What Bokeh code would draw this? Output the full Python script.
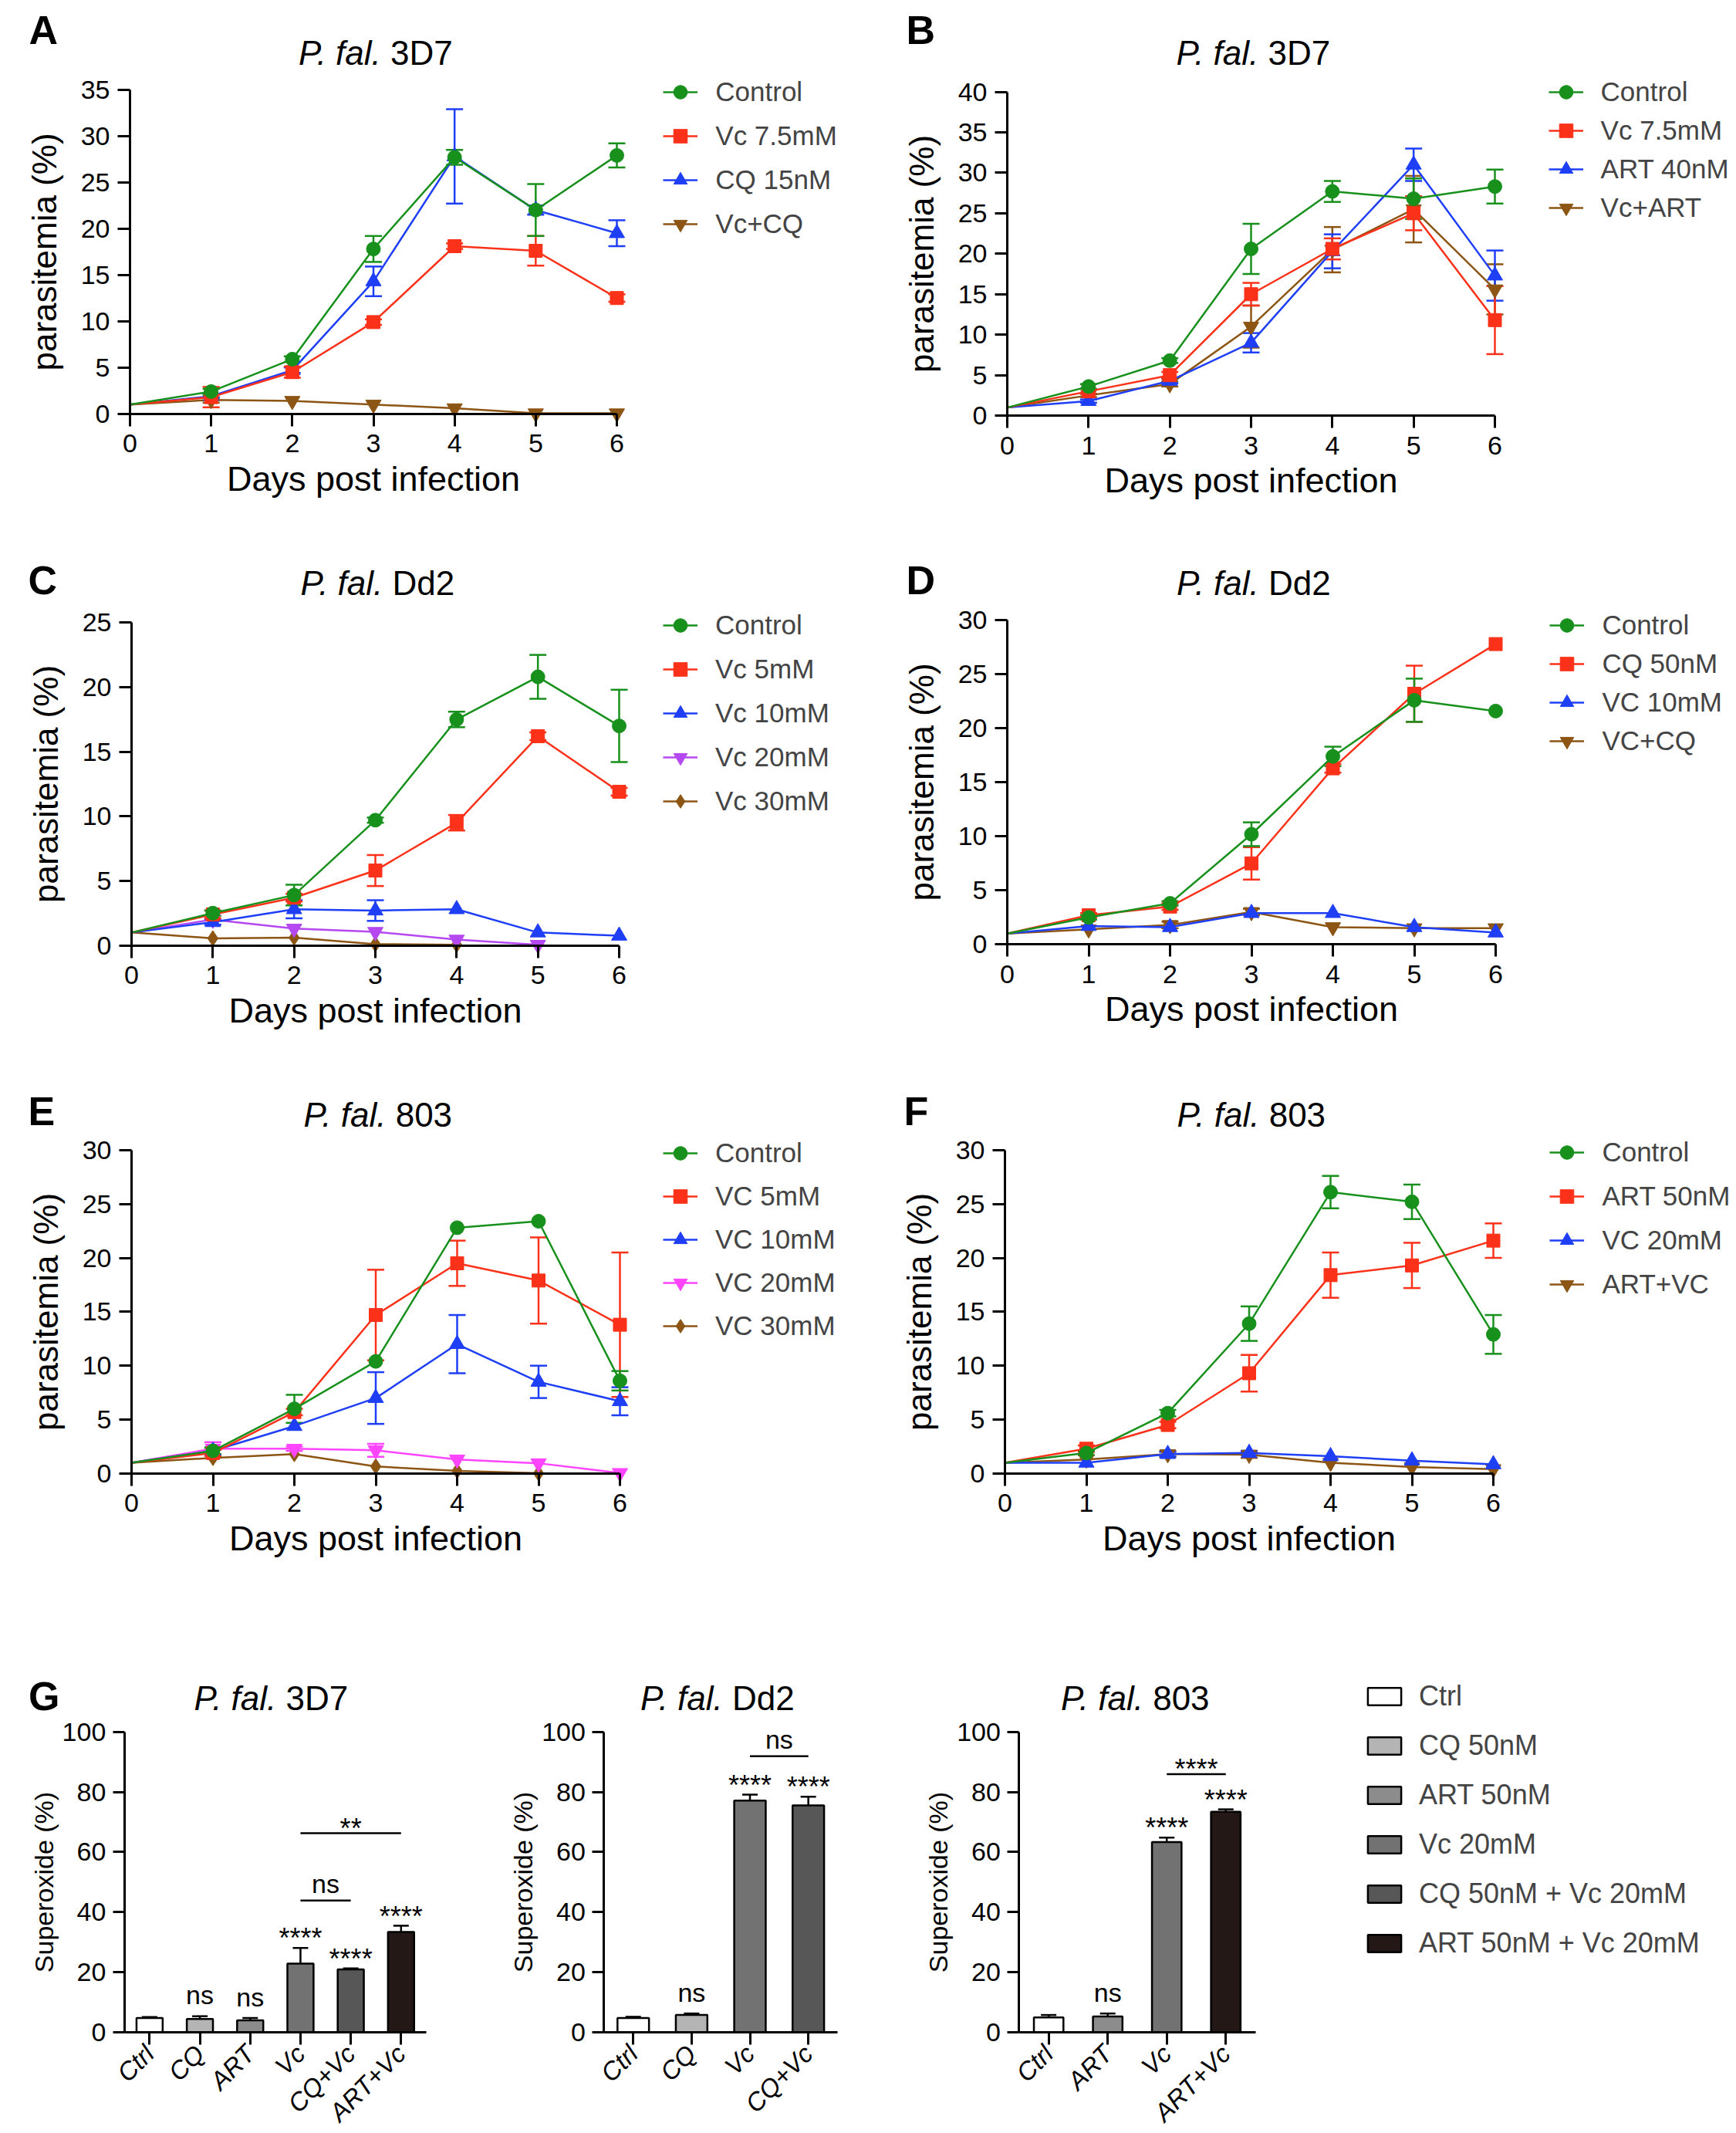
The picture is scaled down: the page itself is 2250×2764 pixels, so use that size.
import math
from bokeh.plotting import figure
from bokeh.models import (Range1d, FixedTicker, Legend, LegendItem, Label,
                          Whisker, TeeHead, ColumnDataSource, LinearAxis)
from bokeh.layouts import row, column
from bokeh.embed import file_html
from bokeh.resources import INLINE
from bokeh.core.properties import value

FONT = "Liberation Sans"
NaN = float("nan")
OFF = 0          # page offset of the layout inside the picture
BASE_FIX = 0.36  # text anchor correction (em) for alphabetic baseline

# ---------------------------------------------------------------- data
days = [0, 1, 2, 3, 4, 5, 6]

# A  P. fal. 3D7
A_ctrl = [1.0, 2.4, 5.9, 17.8, 27.7, 22.0, 27.9]
A_ctrl_sem = [0, 0.3, 0.3, 1.4, 0.8, 2.8, 1.3]
A_vc = [1.0, 1.8, 4.5, 9.9, 18.1, 17.6, 12.5]
A_vc_sem = [0, 1.1, 0.6, 0.3, 0.3, 1.6, 0.4]
A_cq = [1.0, 1.9, 4.7, 14.3, 27.8, 22.0, 19.5]
A_cq_sem = [0, 0.2, 0.3, 1.6, 5.1, 0.5, 1.4]
A_vccq = [1.0, 1.5, 1.4, 1.0, 0.6, 0.05, 0.05]
A_vccq_sem = [0, 0.3, 0, 0, 0, 0, 0]

# B  P. fal. 3D7
B_ctrl = [1.0, 3.6, 6.8, 20.6, 27.7, 26.8, 28.3]
B_ctrl_sem = [0, 0.3, 0.3, 3.1, 1.3, 2.5, 2.1]
B_vc = [1.0, 3.0, 5.0, 15.0, 20.6, 25.0, 11.8]
B_vc_sem = [0, 0.3, 0.4, 1.4, 1.3, 2.1, 4.2]
B_art = [1.0, 1.8, 4.3, 9.0, 20.3, 31.0, 17.3]
B_art_sem = [0, 0.2, 0.3, 1.2, 2.1, 2.0, 3.1]
B_vcart = [1.0, 2.5, 3.9, 11.0, 20.5, 25.5, 15.6]
B_vcart_sem = [0, 0.2, 0.3, 2.6, 2.8, 4.1, 3.1]

# C  P. fal. Dd2
C_ctrl = [1.0, 2.5, 3.9, 9.7, 17.5, 20.8, 17.0]
C_ctrl_sem = [0, 0.2, 0.8, 0.2, 0.6, 1.7, 2.8]
C_vc5 = [1.0, 2.4, 3.7, 5.8, 9.5, 16.2, 11.9]
C_vc5_sem = [0, 0.3, 0.3, 1.2, 0.6, 0.3, 0.3]
C_vc10 = [1.0, 1.8, 2.8, 2.7, 2.8, 1.0, 0.75]
C_vc10_sem = [0, 0.2, 0.7, 0.8, 0, 0, 0]
C_vc20 = [1.0, 2.0, 1.3, 1.05, 0.45, 0.05, NaN]
C_vc20_sem = [0, 0, 0, 0, 0, 0, 0]
C_vc30 = [1.0, 0.55, 0.6, 0.1, 0.05, NaN, NaN]
C_vc30_sem = [0, 0, 0, 0, 0, 0, 0]

# D  P. fal. Dd2
D_ctrl = [1.0, 2.5, 3.8, 10.2, 17.4, 22.6, 21.6]
D_ctrl_sem = [0, 0.2, 0.2, 1.1, 0.9, 2.0, 0]
D_cq = [1.0, 2.7, 3.5, 7.5, 16.3, 23.2, 27.8]
D_cq_sem = [0, 0.2, 0.3, 1.5, 0.4, 2.6, 0]
D_vc = [1.0, 1.7, 1.6, 2.9, 2.9, 1.6, 1.1]
D_vc_sem = [0, 0, 0, 0, 0, 0, 0]
D_vccq = [1.0, 1.4, 1.8, 3.0, 1.6, 1.5, 1.5]
D_vccq_sem = [0, 0, 0.3, 0.3, 0, 0, 0]

# E  P. fal. 803
E_ctrl = [1.0, 2.1, 6.0, 10.4, 22.8, 23.4, 8.6]
E_ctrl_sem = [0, 0.3, 1.3, 0, 0, 0, 0.9]
E_vc5 = [1.0, 1.9, 5.7, 14.7, 19.5, 17.9, 13.8]
E_vc5_sem = [0, 0.3, 0.3, 4.2, 2.1, 4.0, 6.7]
E_vc10 = [1.0, 2.1, 4.4, 7.0, 12.0, 8.5, 6.7]
E_vc10_sem = [0, 0.3, 0, 2.4, 2.7, 1.5, 1.3]
E_vc20 = [1.0, 2.3, 2.3, 2.15, 1.3, 0.95, 0.05]
E_vc20_sem = [0, 0.6, 0.2, 0.6, 0, 0, 0]
E_vc30 = [1.0, 1.45, 1.8, 0.65, 0.25, 0.02, NaN]
E_vc30_sem = [0, 0, 0, 0, 0, 0, 0]

# F  P. fal. 803
F_ctrl = [1.0, 1.9, 5.6, 13.9, 26.1, 25.2, 12.9]
F_ctrl_sem = [0, 0.2, 0.3, 1.6, 1.5, 1.6, 1.8]
F_art = [1.0, 2.3, 4.5, 9.3, 18.4, 19.3, 21.6]
F_art_sem = [0, 0.3, 0.3, 1.7, 2.1, 2.1, 1.6]
F_vc = [1.0, 1.0, 1.8, 1.9, 1.6, 1.2, 0.85]
F_vc_sem = [0, 0, 0.2, 0.2, 0, 0, 0]
F_artvc = [1.0, 1.3, 1.8, 1.75, 1.0, 0.6, 0.4]
F_artvc_sem = [0, 0, 0.3, 0.3, 0, 0, 0]

# G  superoxide (%)
G1_cats = ["Ctrl", "CQ", "ART", "Vc", "CQ+Vc", "ART+Vc"]
G1_mean = [4.8, 4.5, 4.0, 22.9, 21.0, 33.4]
G1_sem = [0.3, 0.9, 0.8, 5.2, 0.3, 2.1]
G1_sig = ["", "ns", "ns", "****", "****", "****"]
G1_cmp = [(3, 4, 43.9, "ns"), (3, 5, 66.3, "**")]

G2_cats = ["Ctrl", "CQ", "Vc", "CQ+Vc"]
G2_mean = [4.8, 5.8, 77.1, 75.5]
G2_sem = [0.4, 0.5, 2.0, 2.9]
G2_sig = ["", "ns", "****", "****"]
G2_cmp = [(2, 3, 91.9, "ns")]

G3_cats = ["Ctrl", "ART", "Vc", "ART+Vc"]
G3_mean = [5.0, 5.3, 63.3, 73.4]
G3_sem = [0.8, 1.0, 1.5, 0.8]
G3_sig = ["", "ns", "****", "****"]
G3_cmp = [(2, 3, 85.9, "****")]

G_treatments = ["Ctrl", "CQ", "ART", "Vc", "CQ+Vc", "ART+Vc"]
G_legend_labels = ["Ctrl", "CQ 50nM", "ART 50nM", "Vc 20mM",
                   "CQ 50nM + Vc 20mM", "ART 50nM + Vc 20mM"]
G_colors = ["#ffffff", "#b4b4b4", "#8c8c8c", "#727272", "#575757", "#231815"]

# ---------------------------------------------------------------- style
GREEN = "#17901c"
RED = "#fb3219"
BLUE = "#1f3ff6"
BROWN = "#8c5514"
PURPLE = "#b548f0"
MAGENTA = "#ff45ff"

TITLE_PX = 44
LETTER_PX = 52
ITEM_H = 44      # legend row height (px)
CW = {"P": .667, ".": .278, " ": .278, "f": .278, "a": .556, "l": .222,
      "3": .556, "D": .722, "7": .556, "d": .556, "2": .556, "8": .556, "0": .556}


def tw(s, fs):
    return sum(CW.get(ch, .556) for ch in s) * fs


def style_axis(ax, tick_fs, label_fs, lab_standoff, axis_standoff, tick_out=16):
    ax.axis_line_width = 3
    ax.axis_line_color = "black"
    ax.major_tick_line_width = 3
    ax.major_tick_line_color = "black"
    ax.major_tick_out = tick_out
    ax.major_tick_in = 0
    ax.minor_tick_line_color = None
    ax.major_label_text_font = FONT
    ax.major_label_text_font_size = tick_fs
    ax.major_label_text_color = "black"
    ax.major_label_standoff = lab_standoff
    ax.axis_label_text_font = FONT
    ax.axis_label_text_font_size = label_fs
    ax.axis_label_text_font_style = "normal"
    ax.axis_label_text_color = "black"
    ax.axis_label_standoff = axis_standoff


def add_title(p, cx, base, strain, dx, dy):
    it = "P. fal."
    w_it, w_sp, w_r = tw(it, TITLE_PX), tw(" ", TITLE_PX), tw(strain, TITLE_PX)
    left = cx - (w_it + w_sp + w_r) / 2.0
    yb = dy(base - BASE_FIX * TITLE_PX)
    p.add_layout(Label(x=dx(left + w_it), y=yb, text=it, text_align="right",
                       text_baseline="alphabetic", text_font=FONT,
                       text_font_size=f"{TITLE_PX}px", text_font_style="italic",
                       text_color="black"))
    p.add_layout(Label(x=dx(left + w_it + w_sp), y=yb, text=strain,
                       text_align="left", text_baseline="alphabetic", text_font=FONT,
                       text_font_size=f"{TITLE_PX}px", text_font_style="normal",
                       text_color="black"))


def add_letter(p, letter, lx, lb, dx, dy):
    p.add_layout(Label(x=dx(lx), y=dy(lb - BASE_FIX * LETTER_PX), text=letter,
                       text_align="left", text_baseline="alphabetic", text_font=FONT,
                       text_font_size=f"{LETTER_PX}px", text_font_style="bold",
                       text_color="black"))


def base_figure(W, H, xr, yr):
    p = figure(width=W, height=H, x_range=Range1d(*xr), y_range=Range1d(*yr),
               x_axis_type=None, y_axis_type=None, min_border=0,
               toolbar_location=None, output_backend="svg")
    p.outline_line_color = None
    p.background_fill_color = "white"
    p.border_fill_color = "white"
    return p


def place_legend(p, items, W, H, ox, oy, gx, gy, pitch, **kw):
    N = len(items)
    spacing = int(round(pitch - ITEM_H))
    leg_h = N * ITEM_H + (N - 1) * spacing
    top_c = gy - ITEM_H / 2.0 - OFF - oy
    vx = gx - OFF - ox
    vy = H - top_c - leg_h
    leg = Legend(items=items, location=(vx, vy), orientation="vertical",
                 margin=0, padding=0, spacing=spacing, label_height=ITEM_H,
                 label_text_font=FONT, border_line_color=None,
                 background_fill_alpha=0, **kw)
    p.add_layout(leg)


def line_panel(geo, ymax, series, strain, letter):
    ox, oy, W, H = geo["box"]
    X0, X6, Yt, Y0 = geo["axes"]
    sx = (X6 - X0) / 6.0
    sy = (Y0 - Yt) / ymax
    X0c = X0 - OFF - ox
    Y0c = Y0 - OFF - oy
    p = base_figure(W, H, (-X0c / sx, (W - X0c) / sx), ((Y0c - H) / sy, Y0c / sy))

    xa = LinearAxis(fixed_location=0, bounds=(0, 6), ticker=FixedTicker(ticks=days),
                    axis_label="Days post infection")
    style_axis(xa, "34px", "45px", 11, 5)
    p.add_layout(xa, "below")
    ya = LinearAxis(fixed_location=0, bounds=(0, ymax),
                    ticker=FixedTicker(ticks=list(range(0, ymax + 1, 5))),
                    axis_label="parasitemia (%)")
    style_axis(ya, "34px", "44px", 10, 20)
    p.add_layout(ya, "left")

    handles = {}
    for (lab, vals, sems, color, marker, size) in reversed(series):
        lr = p.line(days, vals, line_color=color, line_width=2.5)
        mx = [d for d, v in zip(days, vals) if d > 0 and not math.isnan(v)]
        my = [v for d, v in zip(days, vals) if d > 0 and not math.isnan(v)]
        sr = p.scatter(mx, my, marker=marker, size=size, fill_color=color,
                       line_color=color, line_width=1)
        ok = [(d, v, e) for d, v, e in zip(days, vals, sems) if e > 0 and not math.isnan(v)]
        if ok:
            src = ColumnDataSource(dict(x=[o[0] for o in ok],
                                        lo=[o[1] - o[2] for o in ok],
                                        hi=[o[1] + o[2] for o in ok]))
            p.add_layout(Whisker(source=src, base="x", lower="lo", upper="hi",
                                 line_color=color, line_width=2.5,
                                 upper_head=TeeHead(size=22, line_color=color, line_width=2.5),
                                 lower_head=TeeHead(size=22, line_color=color, line_width=2.5)))
        handles[lab] = [lr, sr]
    items = [LegendItem(label=s[0], renderers=handles[s[0]]) for s in series]
    place_legend(p, items, W, H, ox, oy, geo["leg_x"], geo["leg_y"], geo["leg_dy"],
                 glyph_width=45, glyph_height=ITEM_H, label_standoff=23,
                 label_text_font_size="35px")

    def dx(px):
        return (px - X0) / sx

    def dy(py):
        return (Y0 - py) / sy

    add_title(p, (X0 + X6) / 2.0, geo["title_base"], strain, dx, dy)
    add_letter(p, letter, geo["letter"][0], geo["letter"][1], dx, dy)
    return p


STAR_FS, NS_FS = 36, 34


def bar_row(box, yaxis_px, subplots, leg_geo):
    ox, oy, W, H = box
    Yt, Y0 = yaxis_px
    sy = (Y0 - Yt) / 100.0
    Y0c = Y0 - OFF - oy
    # x data units are picture pixels
    p = base_figure(W, H, (OFF + ox, OFF + ox + W), ((Y0c - H) / sy, Y0c / sy))

    def dy(py):
        return (Y0 - py) / sy

    def ident(px):
        return px

    star_k = (BASE_FIX - 0.573) * STAR_FS
    ns_k = (BASE_FIX - 0.26) * NS_FS
    per_t = {t: dict(x=[], top=[], w=[]) for t in G_treatments}
    wx, wlo, whi = [], [], []
    star_x, star_y, star_t, ns_x, ns_y, ns_t = [], [], [], [], [], []
    for sp in subplots:
        X0, Xe = sp["axes"]
        cats, means, sems, sig, cmps = sp["data"]
        n = len(cats)
        sxk = (Xe - X0) / n
        cx = [round(X0 + (i + 0.5) * sxk, 2) for i in range(n)]
        for c, m, x in zip(cats, means, cx):
            per_t[c]["x"].append(x)
            per_t[c]["top"].append(m)
            per_t[c]["w"].append(sp["barw"] * sxk)
        tops = [m + e for m, e in zip(means, sems)]
        wx += cx
        wlo += means
        whi += tops
        for x, t, s in zip(cx, tops, sig):
            if s.startswith("*"):
                star_x.append(x)
                star_y.append(t + (20 + star_k) / sy)
                star_t.append(s)
            elif s:
                ns_x.append(x)
                ns_y.append(t + (24 + ns_k) / sy)
                ns_t.append(s)
        for (i, j, yv, txt) in cmps:
            p.segment(x0=[cx[i]], y0=[yv], x1=[cx[j]], y1=[yv], line_color="black",
                      line_width=2.5)
            xm = (cx[i] + cx[j]) / 2.0
            if txt.startswith("*"):
                star_x.append(xm)
                star_y.append(yv + (14 + star_k) / sy)
                star_t.append(txt)
            else:
                ns_x.append(xm)
                ns_y.append(yv + (18 + ns_k) / sy)
                ns_t.append(txt)
        xa = LinearAxis(fixed_location=0, bounds=(X0, Xe), ticker=FixedTicker(ticks=cx),
                        major_label_overrides={x: c for x, c in zip(cx, cats)})
        style_axis(xa, "33px", "20px", 6, 0)
        xa.major_label_orientation = math.pi / 4
        xa.major_label_text_font_style = "italic"
        p.add_layout(xa, "below")
        ya = LinearAxis(fixed_location=X0, bounds=(0, 100),
                        ticker=FixedTicker(ticks=[0, 20, 40, 60, 80, 100]),
                        axis_label="Superoxide (%)")
        style_axis(ya, "34px", "34px", 9, 2, tick_out=15)
        p.add_layout(ya, "left")
        add_title(p, sp["title_cx"], sp["title_base"], sp["strain"], ident, dy)
        if sp.get("letter"):
            add_letter(p, sp["letter"], sp["letter_pos"][0], sp["letter_pos"][1], ident, dy)

    items = []
    for t, lab, col in zip(G_treatments, G_legend_labels, G_colors):
        src = ColumnDataSource(per_t[t])
        r = p.vbar(x="x", top="top", width="w", bottom=0, source=src, fill_color=col,
                   line_color="black", line_width=2.5)
        items.append(LegendItem(label=lab, renderers=[r]))
    p.add_layout(Whisker(source=ColumnDataSource(dict(x=wx, lo=wlo, hi=whi)),
                         base="x", lower="lo", upper="hi", line_color="black",
                         line_width=2.5, lower_head=None,
                         upper_head=TeeHead(size=20, line_color="black", line_width=2.5)))
    p.text(x=star_x, y=star_y, text=star_t, text_align="center",
           text_baseline="alphabetic", text_font=value(FONT),
           text_font_size=f"{STAR_FS}px", text_color="black")
    p.text(x=ns_x, y=ns_y, text=ns_t, text_align="center",
           text_baseline="alphabetic", text_font=value(FONT),
           text_font_size=f"{NS_FS}px", text_color="black")

    place_legend(p, items, W, H, ox, oy, leg_geo["x"], leg_geo["y"], leg_geo["dy"],
                 glyph_width=54, glyph_height=28, label_standoff=18,
                 label_text_font_size="36px")
    return p


# ---------------------------------------------------------------- layout
GEO = {
    "A": dict(box=(0, 0, 1125, 690), axes=(168, 799, 115.7, 535.7), leg_x=859.3,
              leg_y=118.5, leg_dy=57, title_base=84, letter=(37, 57)),
    "B": dict(box=(1125, 0, 1121, 690), axes=(1305, 1937, 118.5, 538.1), leg_x=2006.6,
              leg_y=118.5, leg_dy=50.4, title_base=84, letter=(1174, 57)),
    "C": dict(box=(0, 690, 1125, 682), axes=(170, 802, 806.3, 1224.6), leg_x=859,
              leg_y=809.8, leg_dy=56.7, title_base=771, letter=(36, 770)),
    "D": dict(box=(1125, 690, 1121, 682), axes=(1305, 1938, 803.3, 1223.3), leg_x=2008.4,
              leg_y=809.8, leg_dy=50.4, title_base=771, letter=(1174, 770)),
    "E": dict(box=(0, 1372, 1125, 700), axes=(170, 803, 1489.8, 1908.9), leg_x=859,
              leg_y=1493.7, leg_dy=56.5, title_base=1459.5, letter=(36, 1458)),
    "F": dict(box=(1125, 1372, 1121, 700), axes=(1302, 1935, 1489.8, 1908.9), leg_x=2008.4,
              leg_y=1492.8, leg_dy=56.6, title_base=1459.5, letter=(1171, 1458)),
}

pA = line_panel(GEO["A"], 35, [
    ("Control", A_ctrl, A_ctrl_sem, GREEN, "circle", 18),
    ("Vc 7.5mM", A_vc, A_vc_sem, RED, "square", 17),
    ("CQ 15nM", A_cq, A_cq_sem, BLUE, "triangle", 20),
    ("Vc+CQ", A_vccq, A_vccq_sem, BROWN, "inverted_triangle", 20)], "3D7", "A")
pB = line_panel(GEO["B"], 40, [
    ("Control", B_ctrl, B_ctrl_sem, GREEN, "circle", 18),
    ("Vc 7.5mM", B_vc, B_vc_sem, RED, "square", 17),
    ("ART 40nM", B_art, B_art_sem, BLUE, "triangle", 20),
    ("Vc+ART", B_vcart, B_vcart_sem, BROWN, "inverted_triangle", 20)], "3D7", "B")
pC = line_panel(GEO["C"], 25, [
    ("Control", C_ctrl, C_ctrl_sem, GREEN, "circle", 18),
    ("Vc 5mM", C_vc5, C_vc5_sem, RED, "square", 17),
    ("Vc 10mM", C_vc10, C_vc10_sem, BLUE, "triangle", 20),
    ("Vc 20mM", C_vc20, C_vc20_sem, PURPLE, "inverted_triangle", 20),
    ("Vc 30mM", C_vc30, C_vc30_sem, BROWN, "diamond", 20)], "Dd2", "C")
pD = line_panel(GEO["D"], 30, [
    ("Control", D_ctrl, D_ctrl_sem, GREEN, "circle", 18),
    ("CQ 50nM", D_cq, D_cq_sem, RED, "square", 17),
    ("VC 10mM", D_vc, D_vc_sem, BLUE, "triangle", 20),
    ("VC+CQ", D_vccq, D_vccq_sem, BROWN, "inverted_triangle", 20)], "Dd2", "D")
pE = line_panel(GEO["E"], 30, [
    ("Control", E_ctrl, E_ctrl_sem, GREEN, "circle", 18),
    ("VC 5mM", E_vc5, E_vc5_sem, RED, "square", 17),
    ("VC 10mM", E_vc10, E_vc10_sem, BLUE, "triangle", 20),
    ("VC 20mM", E_vc20, E_vc20_sem, MAGENTA, "inverted_triangle", 20),
    ("VC 30mM", E_vc30, E_vc30_sem, BROWN, "diamond", 20)], "803", "E")
pF = line_panel(GEO["F"], 30, [
    ("Control", F_ctrl, F_ctrl_sem, GREEN, "circle", 18),
    ("ART 50nM", F_art, F_art_sem, RED, "square", 17),
    ("VC 20mM", F_vc, F_vc_sem, BLUE, "triangle", 20),
    ("ART+VC", F_artvc, F_artvc_sem, BROWN, "inverted_triangle", 20)], "803", "F")

pG = bar_row((0, 2072, 2246, 684), (2243.6, 2633.2), [
    dict(axes=(160.8, 551.9), data=(G1_cats, G1_mean, G1_sem, G1_sig, G1_cmp),
         barw=0.52, strain="3D7", title_cx=348, title_base=2216,
         letter="G", letter_pos=(36.5, 2216)),
    dict(axes=(782.4, 1085.0), data=(G2_cats, G2_mean, G2_sem, G2_sig, G2_cmp),
         barw=0.54, strain="Dd2", title_cx=926.5, title_base=2216),
    dict(axes=(1320.4, 1626.5), data=(G3_cats, G3_mean, G3_sem, G3_sig, G3_cmp),
         barw=0.50, strain="803", title_cx=1468, title_base=2216),
], dict(x=1766.9, y=2198, dy=64.0))

layout = column(row(pA, pB), row(pC, pD), row(pE, pF), pG)
open("out.html", "w").write(file_html(layout, INLINE))
